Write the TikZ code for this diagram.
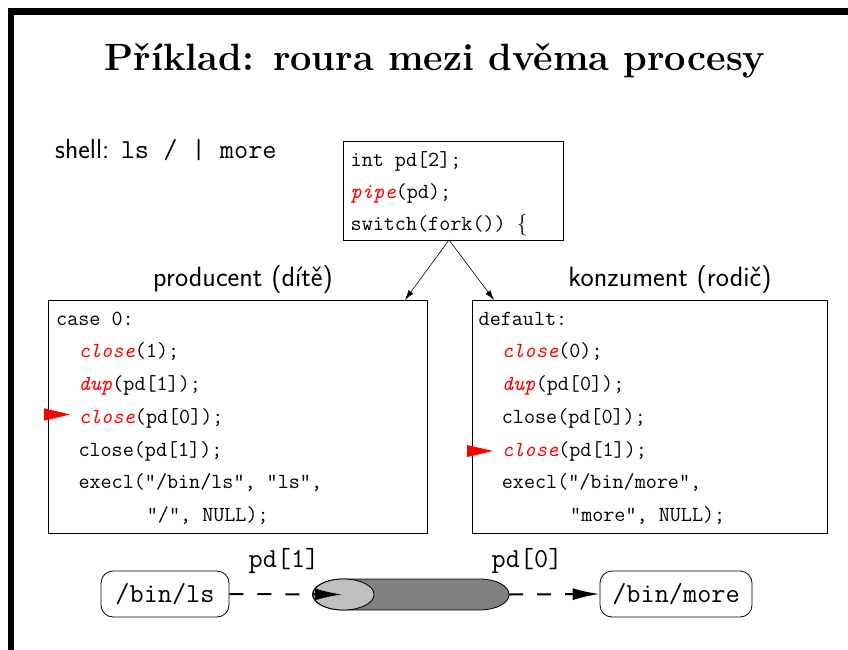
\documentclass[tikz,border=0pt]{standalone}
\usepackage{fontspec}
\usetikzlibrary{arrows.meta}
\newcommand\redfn[1]{\textcolor{red}{\itshape #1}}
\begin{document}
\begin{tikzpicture}[x=1pt,y=-1pt,
  frame/.style={fill=black},
  codebox/.style={draw, line width=0.8pt, inner sep=0, anchor=north west},
  code/.style={anchor=base west, inner sep=0, font=\ttfamily\fontsize{21.5}{25}\selectfont},
  lbl/.style={anchor=base, inner sep=0, font=\sffamily\fontsize{28}{32}\selectfont},
  prog/.style={draw, line width=0.8pt, rounded corners=12pt, inner sep=0, font=\ttfamily\fontsize{27.5}{31}\selectfont},
  pdl/.style={anchor=base, inner sep=0, font=\ttfamily\fontsize{27.5}{31}\selectfont},
  forkarrow/.style={line width=0.6pt, -{Latex[length=10pt,width=6pt]}},
  pipearrow/.style={line width=2pt, dash pattern=on 14pt off 14pt, -{Latex[length=27pt,width=12pt]}},
  pointer/.style={fill=red},
]
\useasboundingbox (0,0) rectangle (848,650);
% frame
\fill[frame] (8,8) rectangle (848,15);
\fill[frame] (8,8) rectangle (14,650);
% title
\node[anchor=base, inner sep=0, font=\fontsize{38}{44}\selectfont\bfseries] (title) at (435,71) {Příklad: roura mezi dvěma procesy};
% shell
\node[anchor=base west, inner sep=0, font=\sffamily\fontsize{27.5}{32}\selectfont] (shell) at (55,158) {shell: \texttt{ls / | more}};
% top box
\node[codebox, minimum width=220pt, minimum height=99pt] (top) at (343,141) {};
\node[code] (t1) at (350.5,166.7) {int pd[2];};
\node[code] (t2) at (350.5,198) {\redfn{pipe}(pd);};
\node[code] (t3) at (350.5,230) {switch(fork()) {\rmfamily\{}};
% labels
\node[lbl] (prodl) at (243,286) {producent (dítě)};
\node[lbl] (konl) at (670,286) {konzument (rodič)};
% left box
\node[codebox, minimum width=379pt, minimum height=233pt] (lbox) at (48,300) {};
\node[code] (a1) at (56,325) {case 0:};
\node[code] (a2) at (78.3,357.7) {\redfn{close}(1);};
\node[code] (a3) at (78.3,390.5) {\redfn{dup}(pd[1]);};
\node[code] (a4) at (78.3,423.2) {\redfn{close}(pd[0]);};
\node[code] (a5) at (78.3,456) {close(pd[1]);};
\node[code] (a6) at (78.3,488.7) {execl("/bin/ls", "ls",};
\node[code] (a7) at (146.7,521.5) {"/", NULL);};
% right box
\node[codebox, minimum width=355pt, minimum height=233pt] (rbox) at (472,300) {};
\node[code] (b1) at (478.5,325) {default:};
\node[code] (b2) at (501.7,357.7) {\redfn{close}(0);};
\node[code] (b3) at (501.7,390.5) {\redfn{dup}(pd[0]);};
\node[code] (b4) at (501.7,423.2) {close(pd[0]);};
\node[code] (b5) at (501.7,456) {\redfn{close}(pd[1]);};
\node[code] (b6) at (501.7,488.7) {execl("/bin/more",};
\node[code] (b7) at (570,521.5) {"more", NULL);};
% red pointers
\fill[pointer] (44,408.3) -- (70,414.5) -- (44,420.7) -- cycle;
\fill[pointer] (467,445) -- (493,451) -- (467,457) -- cycle;
% fork arrows
\coordinate (fk) at (449,240);
\coordinate (la) at (405,300);
\coordinate (ra) at (494,300);
\draw[forkarrow] (fk) -- (la);
\draw[forkarrow] (fk) -- (ra);
% programs
\node[prog, minimum width=128pt, minimum height=46pt] (ls) at (165,594) {/bin/ls};
\node[prog, minimum width=152pt, minimum height=46pt] (more) at (676,594) {/bin/more};
% pipe
\filldraw[fill=black!50, line width=0.8pt] (343,579) -- (480,579)
  arc[start angle=-90, end angle=90, x radius=29, y radius=15.5] -- (343,610)
  arc[start angle=90, end angle=270, x radius=30.5, y radius=15.5] -- cycle;
\filldraw[fill=black!25, line width=0.8pt] (343.5,594.5) ellipse[x radius=30.5, y radius=15.5];
\coordinate (pin) at (342,594.5);
\coordinate (pout) at (509,594.5);
\node[pdl] (pd1) at (284,567) {pd[1]};
\node[pdl] (pd0) at (527,567) {pd[0]};
\draw[pipearrow] (ls.east) -- (pin);
\draw[pipearrow] (pout) -- (more.west);
\end{tikzpicture}
\end{document}
